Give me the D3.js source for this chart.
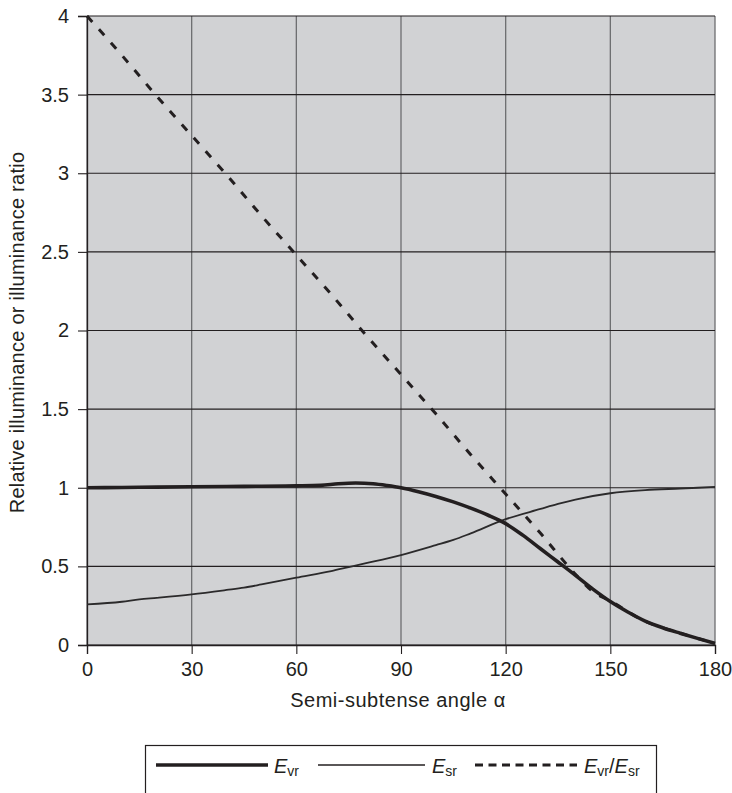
<!DOCTYPE html>
<html><head><meta charset="utf-8">
<script src="https://cdn.jsdelivr.net/npm/d3@7/dist/d3.min.js"></script>
<style>
html,body{margin:0;padding:0;background:#fff;}
svg{display:block;font-family:"Liberation Sans",Arial,sans-serif;}
</style></head>
<body><svg id="chart" width="732" height="793"></svg>
<script>
// ---- data ----
const xTicks = [0, 30, 60, 90, 120, 150, 180];
const yTicks = [0, 0.5, 1, 1.5, 2, 2.5, 3, 3.5, 4];
const yTickLabels = ["0", "0.5", "1", "1.5", "2", "2.5", "3", "3.5", "4"];

const evrAngle = [0, 10, 20, 30, 40, 50, 60, 67, 72, 77, 82, 86, 90, 95, 100, 105, 110, 115, 120, 125, 130, 135, 140, 145, 150, 155, 160, 165, 170, 175, 180];
const evrValue = [1.0, 1.002, 1.004, 1.006, 1.008, 1.01, 1.012, 1.015, 1.025, 1.03, 1.025, 1.014, 1.0, 0.975, 0.945, 0.91, 0.87, 0.825, 0.772, 0.697, 0.612, 0.528, 0.443, 0.355, 0.276, 0.21, 0.152, 0.11, 0.075, 0.042, 0.01];

const esrAngle = [0, 10, 15, 20, 30, 40, 45, 50, 60, 70, 75, 80, 90, 100, 105, 110, 120, 130, 135, 140, 150, 160, 170, 180];
const esrValue = [0.258, 0.275, 0.29, 0.3, 0.322, 0.35, 0.365, 0.385, 0.428, 0.47, 0.495, 0.52, 0.572, 0.635, 0.668, 0.71, 0.80, 0.865, 0.897, 0.925, 0.965, 0.985, 0.995, 1.005];

const ratioAngle = [0, 10, 20, 30, 40, 50, 60, 70, 80, 90, 100, 110, 120, 130, 140, 145, 150, 160, 170, 180];
const ratioValue = [4.0, 3.75, 3.49, 3.24, 2.99, 2.73, 2.48, 2.23, 1.97, 1.72, 1.47, 1.21, 0.96, 0.71, 0.45, 0.34, 0.28, 0.15, 0.076, 0.01];

const xTitle = "Semi-subtense angle \u03B1";
const yTitle = "Relative illuminance or illuminance ratio";

// ---- layout ----
const svg = d3.select("#chart");
const L = 87, R = 715, T = 16, B = 645;
const x = d3.scaleLinear().domain([0, 180]).range([L, R]);
const y = d3.scaleLinear().domain([0, 4]).range([B, T]);
const ink = "#231f20";
const FF = "Liberation Sans, Arial, sans-serif";

svg.append("rect").attr("x", L).attr("y", T).attr("width", R - L).attr("height", B - T).attr("fill", "#d1d2d4");

// vertical grid (gray)
svg.append("g").selectAll("line").data(xTicks).join("line")
  .attr("x1", d => x(d)).attr("x2", d => x(d)).attr("y1", T).attr("y2", B)
  .attr("stroke", "#6d6e70").attr("stroke-width", 1.3);
// horizontal grid (dark)
svg.append("g").selectAll("line").data(yTicks).join("line")
  .attr("x1", L).attr("x2", R).attr("y1", d => y(d)).attr("y2", d => y(d))
  .attr("stroke", ink).attr("stroke-width", 1.1);

// axes
const xAxis = d3.axisBottom(x).tickValues(xTicks).tickSize(9).tickPadding(8).tickFormat(d3.format("d"));
const gx = svg.append("g").attr("transform", `translate(0,${B})`).call(xAxis);
gx.select(".domain").attr("stroke", ink).attr("stroke-width", 1.3);
gx.selectAll(".tick line").attr("stroke", ink).attr("stroke-width", 1.1);
gx.selectAll(".tick text").attr("font-size", 20).attr("fill", ink).attr("font-family", FF);

const yAxis = d3.axisLeft(y).tickValues(yTicks).tickSize(9).tickPadding(9).tickFormat((d, i) => yTickLabels[i]);
const gy = svg.append("g").attr("transform", `translate(${L},0)`).call(yAxis);
gy.select(".domain").attr("stroke", ink).attr("stroke-width", 1.3);
gy.selectAll(".tick line").attr("stroke", ink).attr("stroke-width", 1.1);
gy.selectAll(".tick text").attr("font-size", 20).attr("fill", ink).attr("font-family", FF);

// titles
svg.append("text").attr("x", 398).attr("y", 707).attr("text-anchor", "middle")
  .attr("font-size", 20).attr("letter-spacing", 0.5).attr("fill", ink).text(xTitle);
svg.append("text").attr("transform", `translate(24,${(T + B) / 2 + 2}) rotate(-90)`).attr("text-anchor", "middle")
  .attr("font-size", 20).attr("letter-spacing", 0.25).attr("fill", ink).text(yTitle);

// lines
const line = (xs, ys) => d3.line().x((d, i) => x(xs[i])).y((d, i) => y(ys[i])).curve(d3.curveMonotoneX)(xs);
svg.append("path").attr("d", line(esrAngle, esrValue)).attr("fill", "none").attr("stroke", "#2b2a2b").attr("stroke-width", 1.8);
svg.append("path").attr("d", line(ratioAngle, ratioValue)).attr("fill", "none").attr("stroke", ink).attr("stroke-width", 3).attr("stroke-dasharray", "8,10");
svg.append("path").attr("d", line(evrAngle, evrValue)).attr("fill", "none").attr("stroke", ink).attr("stroke-width", 3.6);

// legend
const lg = svg.append("g");
lg.append("rect").attr("x", 145.5).attr("y", 745.5).attr("width", 511).attr("height", 80)
  .attr("fill", "#fff").attr("stroke", ink).attr("stroke-width", 1.2);
const ly = 765;
lg.append("line").attr("x1", 156).attr("x2", 268).attr("y1", ly).attr("y2", ly).attr("stroke", ink).attr("stroke-width", 3.6);
lg.append("line").attr("x1", 318).attr("x2", 425).attr("y1", ly).attr("y2", ly).attr("stroke", ink).attr("stroke-width", 1.3);
lg.append("line").attr("x1", 475).attr("x2", 577).attr("y1", ly).attr("y2", ly).attr("stroke", ink).attr("stroke-width", 3).attr("stroke-dasharray", "8,5.5");

function legendLabel(xp, parts) {
  const t = lg.append("text").attr("x", xp).attr("y", 773).attr("font-size", 20).attr("fill", ink);
  parts.forEach(p => {
    const s = t.append("tspan").text(p.t);
    if (p.i) s.attr("font-style", "italic");
    if (p.sub) s.attr("font-size", 14).attr("dy", 3);
    if (p.up) s.attr("dy", -3);
  });
}
legendLabel(274, [{t: "E", i: true}, {t: "vr", sub: true}]);
legendLabel(432, [{t: "E", i: true}, {t: "sr", sub: true}]);
legendLabel(584, [{t: "E", i: true}, {t: "vr", sub: true}, {t: "/", up: true}, {t: "E", i: true}, {t: "sr", sub: true}]);
</script></body></html>
